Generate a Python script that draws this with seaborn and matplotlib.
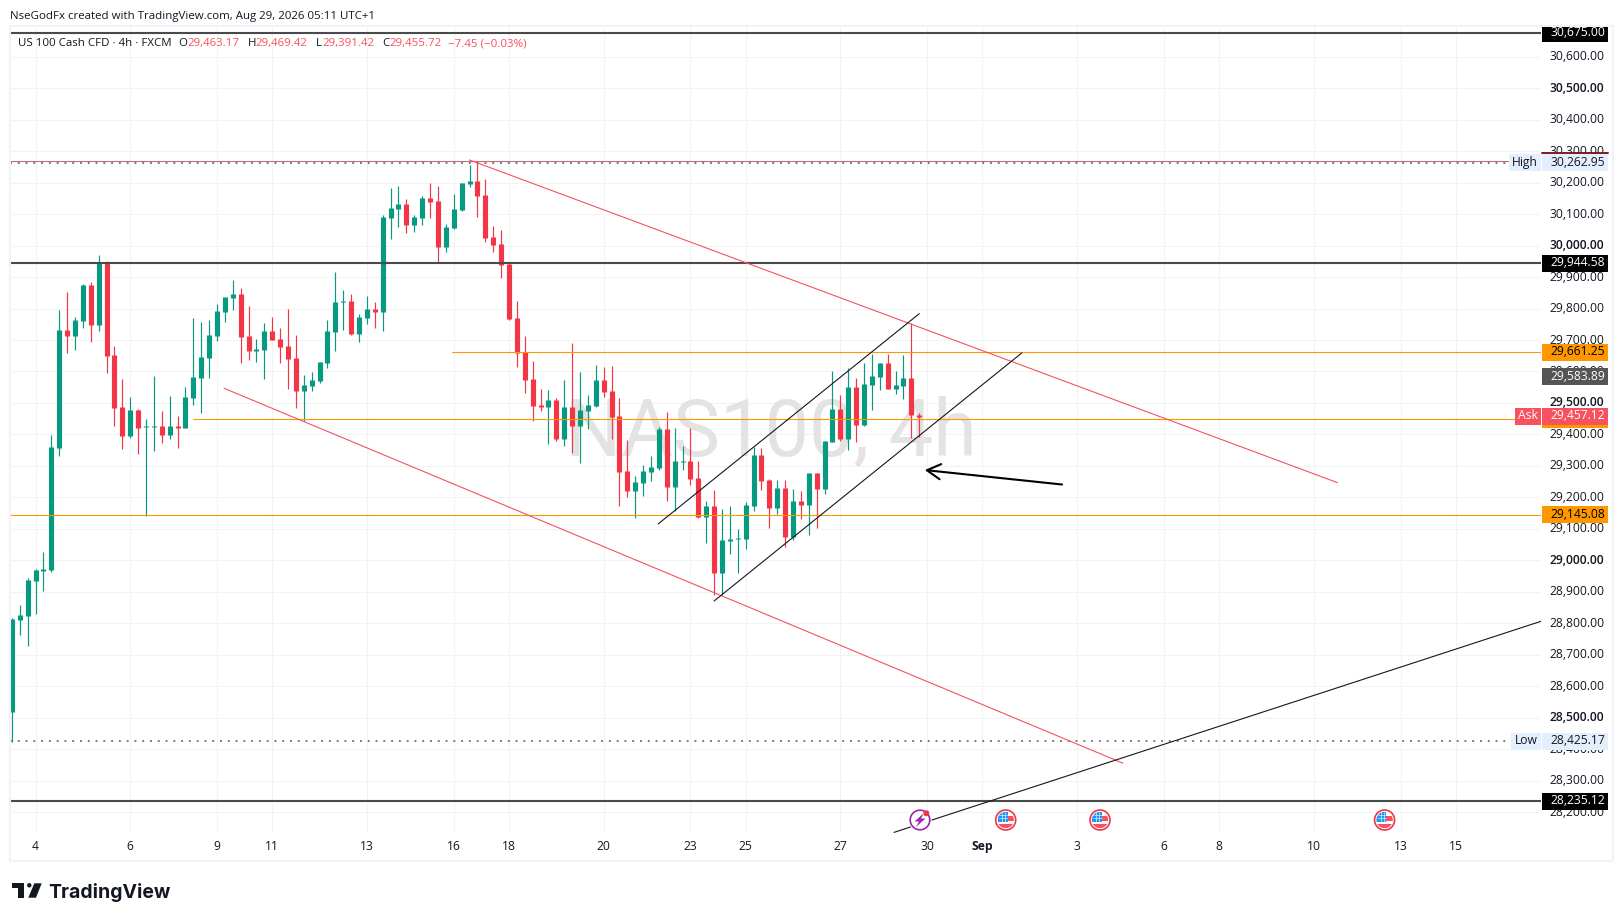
import numpy as np
import pandas as pd
import seaborn as sns
import matplotlib
matplotlib.use("Agg")
import matplotlib.pyplot as plt
from matplotlib.patches import Rectangle, Circle, Polygon

# candles, 4h bars
first_bar = -5
opens = [28518,28811,28823,28935,28966,28969,29357,29732,29713,29760,29875,29748,29947,29652,29487,29395,29478,29424,29424,29427,29398,29427,29421,29516,29579,29643,29713,29789,29833,29846,29713,29665,29668,29729,29703,29681,29643,
         29538,29554,29570,29627,29725,29821,29824,29719,29770,29799,29789,30088,30116,30132,30065,30088,30151,30142,29995,30056,30113,30196,30205,30161,30027,30005,29941,29770,29662,29576,29494,29487,29509,29386,29487,29427,
         29474,29490,29573,29538,29459,29284,29220,29246,29281,29293,29417,29233,29313,29316,29262,29138,29173,28960,29062,29068,29068,29173,
         29335,29255,29166,29230,29074,29189,29176,29278,29227,29376,29481,29386,29551,29430,29557,29583,29627,29544,29554,29579,29463.17]
highs = [28817,28858,28944,28972,29027,29398,29795,29853,29773,29878,29884,29970,29950,29681,29576,29519,29481,29449,29586,29474,29522,29459,29551,29770,29757,29764,29814,29837,29891,29865,29808,29703,29754,29773,29738,29799,29716,
         29589,29598,29630,29764,29916,29859,29846,29783,29840,29821,30097,30183,30189,30148,30097,30157,30199,30189,30069,30164,30199,30256,30265,30211,30062,30049,29948,29824,29713,29633,29544,29541,29516,29573,29690,29598,
         29525,29621,29614,29617,29516,29382,29268,29303,29332,29424,29471,29420,29363,29420,29316,29189,29224,29163,29173,29100,29185,29360,
         29357,29259,29255,29255,29227,29220,29278,29278,29379,29602,29525,29611,29579,29627,29656,29627,29656,29602,29652,29754,29469.42]
lows = [28423,28763,28728,28830,28903,28963,29332,29659,29668,29738,29694,29729,29595,29427,29354,29389,29338,29141,29347,29373,29386,29357,29420,29494,29468,29579,29697,29757,29795,29627,29637,29630,29576,29700,29627,29544,29484,
        29443,29538,29563,29611,29665,29732,29716,29694,29751,29738,29729,30021,30059,30040,30043,30065,30088,29945,29980,30054,30110,30186,30091,30011,29980,29897,29764,29614,29532,29443,29474,29370,29379,29363,29341,29309,
        29417,29487,29519,29386,29173,29201,29135,29204,29252,29287,29189,29157,29287,29239,29135,29055,28890,28890,29020,28960,29036,29157,
        29224,29103,29147,29042,29065,29131,29081,29103,29211,29376,29379,29351,29376,29427,29478,29541,29544,29528,29513,29389,29391.42]
closes = [28814,28827,28938,28969,28973,29360,29732,29713,29764,29875,29748,29947,29649,29484,29395,29478,29421,29427,29427,29398,29427,29421,29519,29583,29646,29716,29792,29837,29846,29710,29665,29671,29729,29700,29678,29640,29538,
          29557,29573,29630,29729,29821,29824,29719,29773,29799,29789,30091,30119,30132,30065,30091,30151,30138,29995,30059,30116,30199,30205,30158,30024,30002,29938,29767,29659,29573,29490,29487,29509,29386,29487,29427,29478,
          29494,29573,29535,29455,29281,29220,29249,29284,29297,29417,29233,29316,29316,29259,29138,29173,28960,29065,29068,29071,29176,29335,
          29252,29166,29230,29074,29189,29176,29278,29227,29379,29481,29386,29551,29430,29560,29586,29627,29544,29557,29579,29462,29455.72]

# price scale and date scale
y_ticks = list(range(28200, 30700, 100))
date_bars = [-2,10,21,28,40,51,58,70,81,88,100,111,118,130,141,148,160,171,178]
date_labels = ["4","6","9","11","13","16","18","20","23","25","27","30","Sep","3","6","8","10","13","15"]

# levels and drawings
black_levels = [30675.00, 29944.58, 28235.12]
high_price = 30262.95
low_price = 28425.17
orange_levels = [29661.25, 29448.00, 29145.08]
orange_starts = [50.8, 17.9, -5.2]
trend_red_up = ([53.0, 163.0], [30272, 29247])
trend_red_low = ([21.9, 135.8], [29546.6, 28356])
chan_up = ([76.9, 110.0], [29115.6, 29783.6])
chan_low = ([84.0, 123.0], [28871, 29659])
rising = ([106.8, 188.8], [28136, 28806.5])
arrow_tip = (110.7, 29287)
arrow_tail = (128.1, 29241)

GREEN, RED = "#089981", "#f23645"
ORANGE = "#ff9800"
FONT = "Open Sans"
SMALL = 8.25

sns.set_theme(style="white")
plt.rcParams["font.family"] = [FONT, "DejaVu Sans"]
plt.rcParams["ytick.alignment"] = "center"

fig = plt.figure(figsize=(16.23, 9.21), dpi=100)
W, H = 1623, 921
ax = fig.add_axes([10.3 / W, 1 - 832.7 / H, (1541 - 10.3) / W, (832.7 - 27) / H])
ax.set_xlim(-5.2, 188.8)
ax.set_ylim(28135, 30694.3)
sns.despine(ax=ax, left=True, bottom=True, top=True, right=True)
ax.grid(True, color="#f2f3f5", lw=0.8)
ax.set_axisbelow(True)

# axes ticks
ax.yaxis.tick_right()
ax.set_yticks(y_ticks)
ax.set_yticklabels([f"{v:,.2f}" for v in y_ticks], fontsize=8.7, color="#131722")
for v, lab in zip(y_ticks, ax.get_yticklabels()):
    if v % 500 == 0:
        lab.set_fontweight("semibold")
ax.set_xticks(date_bars)
ax.set_xticklabels(date_labels, fontsize=8.7, color="#131722")
for lab in ax.get_xticklabels():
    if lab.get_text() == "Sep":
        lab.set_fontweight("bold")
ax.tick_params(axis="y", length=0, pad=6.2)
ax.tick_params(axis="x", length=0, pad=5)

# watermark
ax.text(91.2, 29405, "NAS100, 4h", fontsize=57, color="#e3e3e3", ha="center", va="center", zorder=1, family="Roboto")

# candles
bars = np.arange(len(opens)) + first_bar
df = pd.DataFrame({"bar": bars, "o": opens, "h": highs, "l": lows, "c": closes})
df["dir"] = np.where(df["c"] >= df["o"], "up", "down")
wicks = df.melt(id_vars=["bar", "dir"], value_vars=["h", "l"], value_name="price")
bodies = df.melt(id_vars=["bar", "dir"], value_vars=["o", "c"], value_name="price")
pal = {"up": GREEN, "down": RED}
sns.lineplot(data=wicks, x="bar", y="price", hue="dir", units="bar", estimator=None, palette=pal,
             linewidth=0.85, legend=False, ax=ax, sort=False, solid_capstyle="butt", zorder=3)
sns.lineplot(data=bodies, x="bar", y="price", hue="dir", units="bar", estimator=None, palette=pal,
             linewidth=3.7, legend=False, ax=ax, sort=False, solid_capstyle="butt", zorder=3)

# horizontal levels
for lv in black_levels:
    ax.axhline(lv, color="#4a4a4a", lw=1.5, zorder=4)
for lv, st in zip(orange_levels, orange_starts):
    ax.plot([st, 188.8], [lv, lv], color=ORANGE, lw=0.8, zorder=4)
ax.plot([-5.2, 184.6], [30270, 30270], color="#b9707a", lw=0.8, zorder=4)
for lv in [high_price, low_price]:
    ax.plot([-5.2, 184.6], [lv, lv], color="#787b86", lw=1.4, dashes=(1, 3), zorder=4)

# trend lines
for xs, ys in [trend_red_up, trend_red_low]:
    sns.lineplot(x=xs, y=ys, color="#f7525f", lw=0.8, ax=ax, zorder=5)
for xs, ys in [chan_up, chan_low, rising]:
    sns.lineplot(x=xs, y=ys, color="#131722", lw=0.8, ax=ax, zorder=5)
ax.set_xlabel("")
ax.set_ylabel("")
ax.set_xlim(-5.2, 188.8)
ax.set_ylim(28135, 30694.3)
ax.annotate("", xy=arrow_tip, xytext=arrow_tail, zorder=6,
            arrowprops=dict(arrowstyle="->,head_length=0.75,head_width=0.42", color="black", lw=1.5,
                            shrinkA=0, shrinkB=0, mutation_scale=13))

# overlay in pixels for badges, header and logo
top = fig.add_axes([0, 0, 1, 1], facecolor="none")
top.set_xlim(0, W)
top.set_ylim(H, 0)
top.axis("off")
top.add_patch(Rectangle((9.5, 26.5), 1603, 834, fill=False, ec="#f0f3fa", lw=1.5))


def py(price):
    return H - ax.transData.transform((0, price))[1]


def badge(price, text, bg, fg, x0=1542, x1=1607.7, dy=8.5):
    y = py(price)
    top.add_patch(Rectangle((x0, y - dy), x1 - x0, 2 * dy, fc=bg, ec="none", zorder=3))
    left = x0 == 1542
    top.text(x0 + 8.3 if left else (x0 + x1) / 2, y - 0.5, text, color=fg, fontsize=8.7,
             ha="left" if left else "center", va="center", zorder=4)


top.add_patch(Rectangle((1542, 27), 65.7, 15, fc="black", ec="none", zorder=3))
top.text(1550.3, 32.5, "30,675.00", color="white", fontsize=8.7, va="center", zorder=4)
top.plot([1542, 1607.7], [153, 153], color="#801922", lw=1.4, zorder=3)
badge(high_price, "30,262.95", "#e3effd", "#131722")
badge(high_price, "High", "#e3effd", "#131722", x0=1509, x1=1541)
badge(29944.58, "29,944.58", "black", "white")
badge(29661.25, "29,661.25", ORANGE, "black")
badge(29583.89, "29,583.89", "#555555", "white")
top.add_patch(Rectangle((1542, 411), 65.7, 17, fc=ORANGE, ec="none", zorder=2))
badge(29457.12, "29,457.12", "#f7525f", "white")
badge(29457.12, "Ask", "#f7525f", "white", x0=1515, x1=1541)
badge(29145.08, "29,145.08", ORANGE, "black")
badge(low_price, "28,425.17", "#e3effd", "#131722")
badge(low_price, "Low", "#e3effd", "#131722", x0=1511, x1=1541)
badge(28235.12, "28,235.12", "black", "white")

# header and legend
top.text(10, 16, "NseGodFx created with TradingView.com, Aug 29, 2026 05:11 UTC+1", fontsize=SMALL, color="#131722", va="center")
legend_bits = [(18, "US 100 Cash CFD · 4h · FXCM", "#131722"), (178, "O", "#131722"), (187, "29,463.17", "#f7525f"),
               (247.5, "H", "#131722"), (255, "29,469.42", "#f7525f"), (316, "L", "#131722"), (322, "29,391.42", "#f7525f"),
               (382, "C", "#131722"), (389, "29,455.72", "#f7525f"), (448, "−7.45 (−0.03%)", "#f7525f")]
for x, s, c in legend_bits:
    top.text(x, 43.5, s, fontsize=SMALL, color=c, va="center")

# event icons on the time axis
ICON_Y = 820
for cx in [1005.7, 1100, 1384.6]:
    top.add_patch(Circle((cx, ICON_Y), 10, fc="white", ec="#f23645", lw=1.2, zorder=6))
    clip = Circle((cx, ICON_Y), 8.2, transform=top.transData)
    for x0, y0, w, h, col in [(-8.2, -8.2, 10, 10, "#2196f3"), (1.8, -3.7, 6.5, 4.7, "#f7525f"), (-8.2, 4.3, 16.4, 4, "#f7525f")]:
        r = Rectangle((cx + x0, ICON_Y + y0), w, h, fc=col, ec="none", zorder=7)
        top.add_patch(r)
        r.set_clip_path(clip)
    for off in [-4, -1]:
        top.plot([cx + off, cx + off], [ICON_Y - 8, ICON_Y + 1.7], color="white", lw=0.4, zorder=8)
    for off in [-5, -2]:
        top.plot([cx - 7, cx + 1.7], [ICON_Y + off, ICON_Y + off], color="white", lw=0.4, zorder=8)
cx = 920
top.add_patch(Circle((cx, ICON_Y), 11.5, fc="white", ec="none", zorder=6))
top.add_patch(Circle((cx, ICON_Y), 9.8, fc="white", ec="#9c27b0", lw=1.2, zorder=6))
top.add_patch(Polygon([(cx + 4, ICON_Y - 7), (cx - 5.5, ICON_Y + 1.5), (cx - 1, ICON_Y + 1.5), (cx - 4, ICON_Y + 7),
                       (cx + 5.5, ICON_Y - 1.5), (cx + 1, ICON_Y - 1.5)], fc="#9c27b0", ec="none", zorder=7))
top.add_patch(Circle((cx + 6.3, ICON_Y - 6.7), 3, fc="#f23645", ec="none", zorder=7))

# logo
logo = "#131722"
top.add_patch(Polygon([(12, 883.3), (24, 883.3), (24, 897.7), (18, 897.7), (18, 887.5), (12, 887.5)], fc=logo, ec="none"))
top.add_patch(Circle((29.3, 885.3), 2.2, fc=logo, ec="none"))
top.add_patch(Polygon([(34.3, 883.3), (41.7, 883.3), (36, 897.7), (28.3, 897.7)], fc=logo, ec="none"))
top.text(48, 892, "TradingView", fontsize=14, color=logo, family="Inter", fontweight="bold", va="center")

fig.savefig("out.png", dpi=100)
